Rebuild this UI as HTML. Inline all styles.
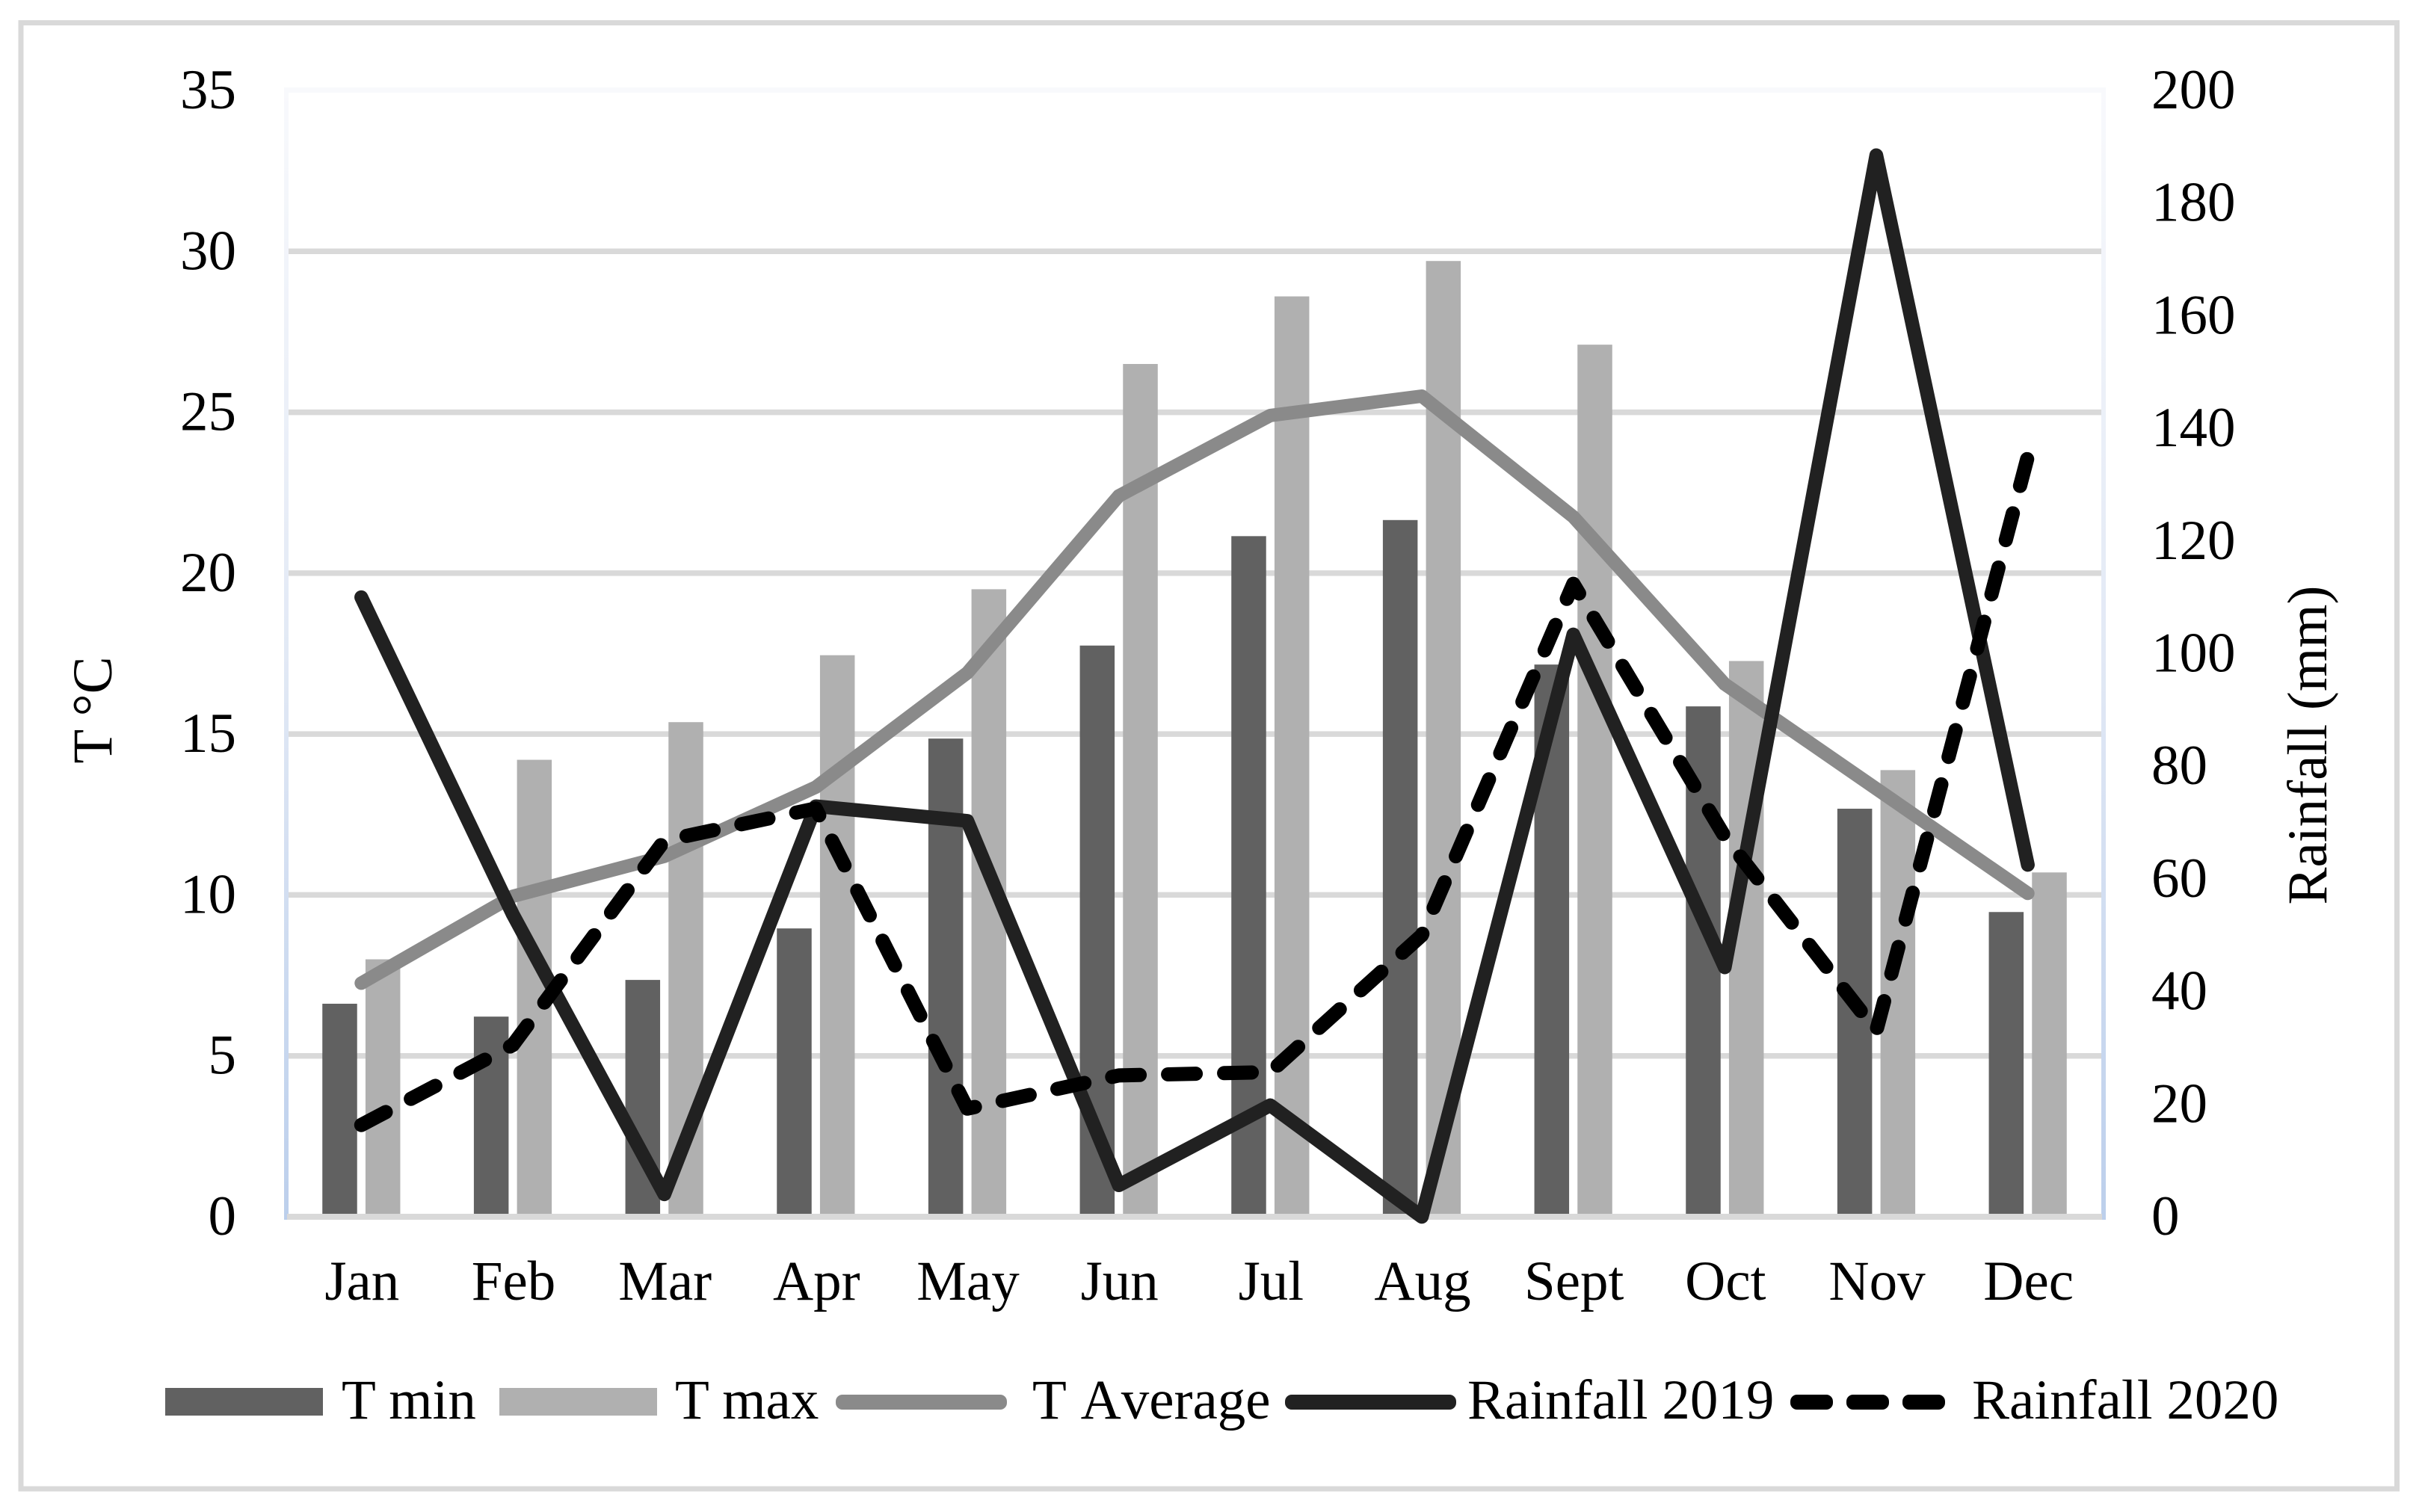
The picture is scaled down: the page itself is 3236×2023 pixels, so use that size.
<!DOCTYPE html>
<html lang="en">
<head>
<meta charset="utf-8">
<title>Monthly temperature and rainfall</title>
<style>
html,body{margin:0;padding:0;background:#fff;}
svg{display:block;}
text{font-family:"Liberation Serif","Times New Roman",serif;fill:#000;}
</style>
</head>
<body>
<svg id="chart" xmlns="http://www.w3.org/2000/svg" width="3236" height="2023" viewBox="0 0 3236 2023">
  <defs>
    <linearGradient id="edgeGrad" x1="0" y1="0" x2="0" y2="1">
      <stop offset="0" stop-color="#f8f9fc"/>
      <stop offset="0.5" stop-color="#e2e9f5"/>
      <stop offset="1" stop-color="#bccfec"/>
    </linearGradient>
  </defs>
  <rect x="0" y="0" width="3236" height="2023" fill="#fff"/>
  <rect x="28" y="30.5" width="3178.5" height="1961.5" fill="#fff" stroke="#d9d9d9" stroke-width="7"/>
  <rect x="380" y="117" width="2437" height="7" fill="#f8f9fc"/>
  <rect x="380" y="117" width="6" height="1515" fill="url(#edgeGrad)"/>
  <rect x="2811" y="117" width="6" height="1515" fill="url(#edgeGrad)"/>
  <g id="grid"></g>
  <g id="bars"></g>
  <rect x="384" y="1624" width="2428" height="8" fill="#d9d9d9"/>
  <g id="lines"></g>
  <g id="ticks"></g>

  <text transform="translate(149,950) rotate(-90)" text-anchor="middle" font-size="75">T °C</text>
  <text transform="translate(3112,997) rotate(-90)" text-anchor="middle" font-size="75">Rainfall (mm)</text>

  <g>
    <g>
      <rect x="221" y="1857" width="211" height="37" fill="#616161"/>
      <text x="457" y="1898" font-size="75">T min</text>
    </g>
    <g>
      <rect x="668" y="1857" width="211" height="37" fill="#b0b0b0"/>
      <text x="903" y="1898" font-size="75">T max</text>
    </g>
    <g>
      <rect x="1118" y="1866" width="229" height="20" rx="9" fill="#8a8a8a"/>
      <text x="1381" y="1898" font-size="75" style="font-kerning:none">T Average</text>
    </g>
    <g>
      <rect x="1719" y="1866" width="229" height="20" rx="9" fill="#212121"/>
      <text x="1963" y="1898" font-size="75">Rainfall 2019</text>
    </g>
    <g>
      <rect x="2395" y="1866" width="57" height="20" rx="9" fill="#000"/>
      <rect x="2470" y="1866" width="57" height="20" rx="9" fill="#000"/>
      <rect x="2545" y="1866" width="57" height="20" rx="9" fill="#000"/>
      <text x="2638" y="1898" font-size="75">Rainfall 2020</text>
    </g>
  </g>
</svg>
<script>
const months = ["Jan","Feb","Mar","Apr","May","Jun","Jul","Aug","Sept","Oct","Nov","Dec"];
const tMin = [6.62,6.22,7.36,8.96,14.86,17.75,21.15,21.65,17.16,15.86,12.68,9.47];
const tMax = [8.0,14.2,15.37,17.45,19.5,26.5,28.6,29.7,27.1,17.27,13.88,10.7];
const tAverage = [7.26,9.96,11.2,13.35,16.9,22.4,24.9,25.5,21.75,16.55,13.3,10.05];
const rainfall2019 = [110,53.7,4,72.9,70.3,5.6,19.8,0,103.4,44.3,188.5,62.5];
const rainfall2020 = [16.3,30.5,66.8,72.5,19.2,25.1,25.7,50,112.4,67.5,33,135];
const leftTicks = [0,5,10,15,20,25,30,35];
const rightTicks = [0,20,40,60,80,100,120,140,160,180,200];

const NS = "http://www.w3.org/2000/svg";
const plotLeft = 382, plotRight = 2814, plotBottom = 1628, plotTop = 121;
const leftMax = 35, rightMax = 200;
const barWidth = 46.5, barGap = 11.2;

function xCenter(i){ return plotLeft + (plotRight - plotLeft) * (i + 0.5) / months.length; }
function yLeft(v){ return plotBottom - (plotBottom - plotTop) * v / leftMax; }
function yRight(v){ return plotBottom - (plotBottom - plotTop) * v / rightMax; }
function make(tag, attrs, parent){
  const el = document.createElementNS(NS, tag);
  for (const k in attrs) el.setAttribute(k, attrs[k]);
  parent.appendChild(el);
  return el;
}

const gridG = document.getElementById("grid");
const barsG = document.getElementById("bars");
const linesG = document.getElementById("lines");
const ticksG = document.getElementById("ticks");

leftTicks.forEach(function(t){
  if (t === 0 || t === leftMax) return;
  const ln = make("line", {x1: plotLeft + 4, x2: plotRight - 3, y1: yLeft(t), y2: yLeft(t), stroke: "#d9d9d9", "stroke-width": 7.5}, gridG);
  
  
});

months.forEach(function(m, i){
  const c = xCenter(i);
  const lo = make("rect", {x: c - barGap / 2 - barWidth, y: yLeft(tMin[i]), width: barWidth, height: plotBottom - yLeft(tMin[i]), fill: "#616161"}, barsG);
  
  
  const hi = make("rect", {x: c + barGap / 2, y: yLeft(tMax[i]), width: barWidth, height: plotBottom - yLeft(tMax[i]), fill: "#b0b0b0"}, barsG);
  
  
});

function pts(values, yFn){
  return values.map(function(v, i){ return xCenter(i).toFixed(1) + "," + yFn(v).toFixed(1); }).join(" ");
}
const avgLine = make("polyline", {points: pts(tAverage, yLeft), fill: "none", stroke: "#8a8a8a", "stroke-width": 18, "stroke-linecap": "round", "stroke-linejoin": "round"}, linesG);


const rain19Line = make("polyline", {points: pts(rainfall2019, yRight), fill: "none", stroke: "#212121", "stroke-width": 18.5, "stroke-linecap": "round", "stroke-linejoin": "round"}, linesG);


const rain20Line = make("polyline", {points: pts(rainfall2020, yRight), fill: "none", stroke: "#000", "stroke-width": 19, "stroke-linecap": "round", "stroke-linejoin": "round", "stroke-dasharray": "37 38"}, linesG);



leftTicks.forEach(function(t){
  const el = make("text", {x: 316, y: yLeft(t) + 24, "text-anchor": "end", "font-size": 75}, ticksG);
  el.textContent = t;
  
  
});
rightTicks.forEach(function(t){
  const el = make("text", {x: 2878, y: yRight(t) + 24, "font-size": 75}, ticksG);
  el.textContent = t;
  
  
});
months.forEach(function(m, i){
  const el = make("text", {x: xCenter(i) + 1, y: 1739, "text-anchor": "middle", "font-size": 75}, ticksG);
  el.textContent = m;
  
  
});
</script>
</body>
</html>
